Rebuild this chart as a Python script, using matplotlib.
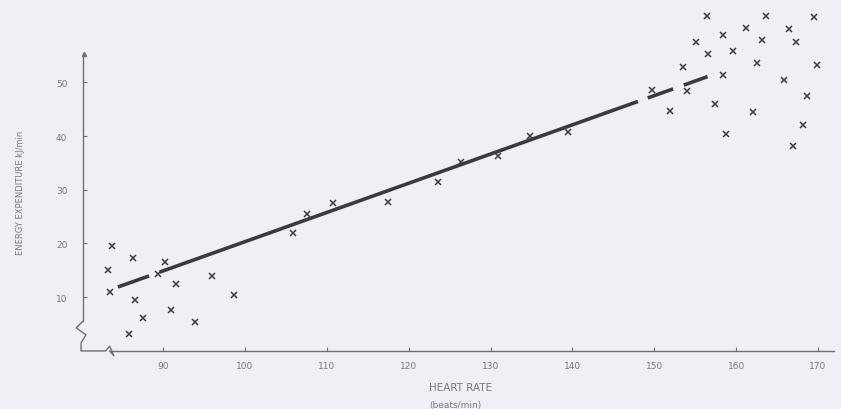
import numpy as np
import matplotlib.pyplot as plt

# heart rate (beats/min) and energy expenditure (kJ/min)
heart_rate = [83.8, 86.3, 83.3, 83.5, 90.2, 89.4, 86.6, 91.6, 87.6, 91.0, 93.9, 85.8, 98.7, 96.0,
              107.6, 110.8, 105.9, 117.5, 123.6, 126.4, 130.9, 134.8, 139.5,
              149.7, 151.9, 153.5, 154.0,
              156.4, 163.6, 169.5, 161.2, 166.4, 158.4, 155.1, 163.1, 167.3, 156.5, 159.6,
              162.5, 169.9, 158.4, 165.8, 168.6, 157.4, 162.0, 168.1, 158.7, 166.9]
energy = [19.5, 17.3, 15.1, 11.0, 16.6, 14.3, 9.5, 12.5, 6.1, 7.6, 5.4, 3.2, 10.4, 14.0,
          25.5, 27.6, 21.9, 27.8, 31.4, 35.2, 36.3, 40.0, 40.7,
          48.5, 44.7, 52.9, 48.3,
          62.3, 62.3, 62.1, 60.1, 59.9, 58.8, 57.5, 57.9, 57.5, 55.3, 55.8,
          53.6, 53.2, 51.3, 50.4, 47.4, 46.0, 44.5, 42.0, 40.4, 38.1]

# regression line as drawn (with the gaps of the original)
line_slope = 0.5438
line_intercept = -34.05
line_pieces = [(84.5, 88.3), (89.6, 148.0), (149.2, 152.3), (153.6, 156.5)]

x_ticks = [90, 100, 110, 120, 130, 140, 150, 160, 170]
y_ticks = [10, 20, 30, 40, 50]

ink = '#3a3a40'
grey = '#6e6e78'
bg = '#eff0f6'

fig = plt.figure(figsize=(8.41, 4.10), dpi=100, facecolor=bg)
ax = fig.add_axes([0, 0, 1, 1], facecolor=bg)
ax.set_xlim(70.1, 172.8)
ax.set_ylim(-10.8, 65.5)

# punti
ax.plot(heart_rate, energy, 'x', color=ink, ms=5, mew=1.1, clip_on=False)

# retta di regressione
for a, b in line_pieces:
    xs = np.array([a, b])
    ax.plot(xs, line_slope * xs + line_intercept, color=ink, lw=2.6, solid_capstyle='butt')

# assi con interruzioni
for s in ['top', 'right']:
    ax.spines[s].set_visible(False)
ax.spines['left'].set_position(('data', 80.2))
ax.spines['left'].set_bounds(5.5, 55.3)
ax.spines['bottom'].set_position(('data', 0))
ax.spines['bottom'].set_bounds(83.5, 172.0)
for s in ['left', 'bottom']:
    ax.spines[s].set_color(grey)
    ax.spines[s].set_linewidth(1.0)
ax.plot([80.2, 79.4, 80.6, 80.0, 80.0, 83.0, 83.5, 84.0, 83.5],
        [5.5, 4.3, 3.0, 1.5, 0.0, 0.0, 0.9, -0.9, 0.0], color=grey, lw=1.0)
ax.plot([80.3], [55.3], marker='^', ms=3, color=grey)

ax.set_xticks(x_ticks)
ax.set_yticks(y_ticks)
ax.tick_params(axis='both', direction='in', length=3, width=0.8, color=grey,
               labelcolor='#77777f', labelsize=6.5)
ax.tick_params(axis='y', pad=11)
ax.tick_params(axis='x', pad=7)

fig.text(0.024, 0.53, 'ENERGY EXPENDITURE kJ/min', rotation=90, ha='center', va='center',
         fontsize=6, color='#77777f')
fig.text(0.548, 0.053, 'HEART RATE', ha='center', va='center', fontsize=7.5, color='#77777f')
fig.text(0.541, 0.012, '(beats/min)', ha='center', va='center', fontsize=6.5, color='#77777f')

plt.savefig('out.png', dpi=100, facecolor=bg)
